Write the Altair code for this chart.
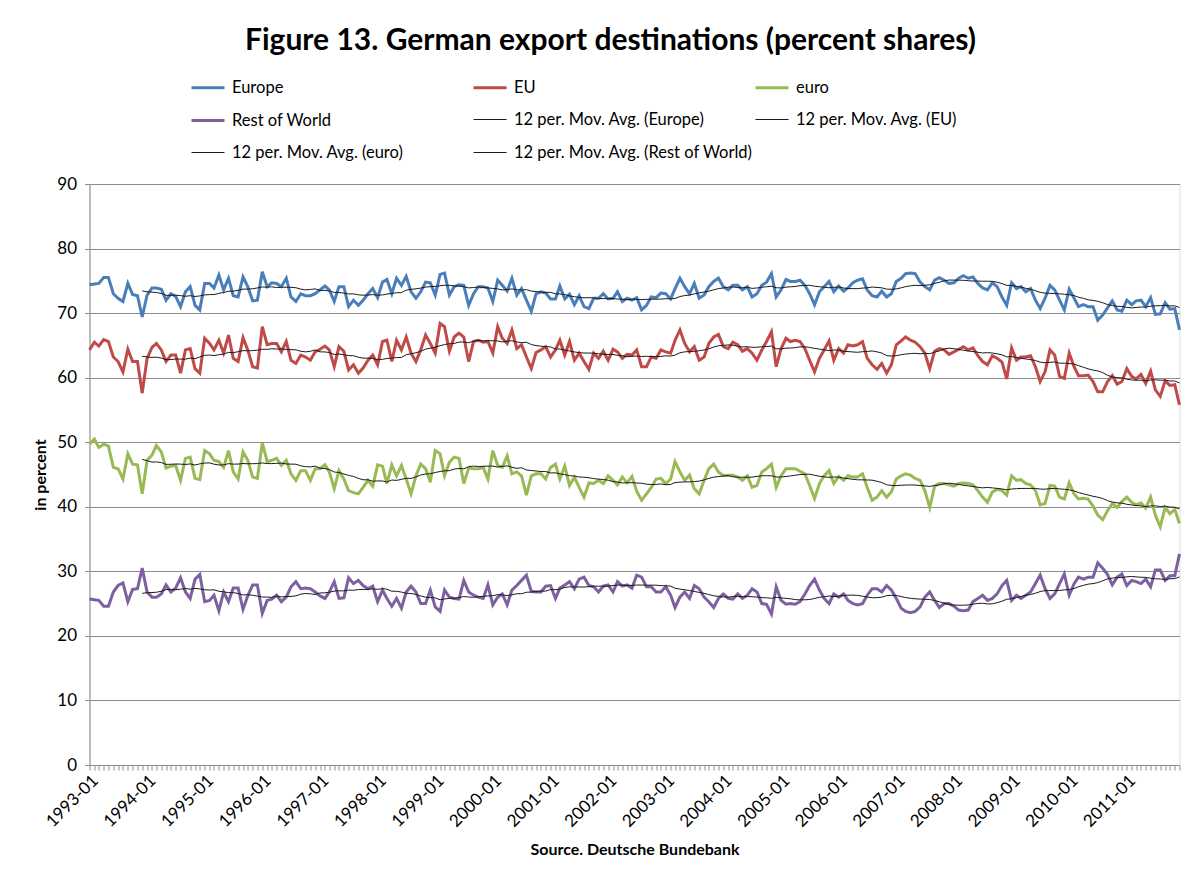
import altair as alt
import pandas as pd

# ---- data (monthly shares) ----
months = [d.strftime("%Y-%m") for d in pd.date_range("1993-01-01", periods=228, freq="MS")]

europe = [
    74.4, 74.5, 74.6, 75.5, 75.5, 73.0, 72.3, 71.8, 74.6, 72.9,
    72.7, 69.4, 72.8, 73.9, 73.9, 73.7, 72.0, 73.0, 72.6, 71.0,
    73.3, 74.1, 71.2, 70.5, 74.6, 74.6, 73.9, 75.9, 73.6, 75.4,
    72.7, 72.5, 75.6, 74.1, 71.9, 72.0, 76.4, 74.1, 74.7, 74.6,
    74.1, 75.4, 72.5, 71.8, 73.0, 72.7, 72.7, 73.0, 73.6, 74.2,
    73.6, 71.8, 74.1, 74.1, 71.0, 72.0, 71.2, 72.0,
    73.0, 73.8, 72.4, 74.8, 75.2, 73.0, 75.4, 74.3, 75.7, 73.3,
    72.3, 73.3, 74.8, 74.7, 72.8, 76.0, 76.2, 72.8, 74.1, 74.4,
    74.3, 71.2, 73.0, 74.1, 74.1, 73.9, 71.8, 75.1, 74.3, 73.4,
    75.4, 72.8, 73.8, 72.0, 70.3, 73.0, 73.3, 73.1, 72.2, 72.2,
    74.2, 72.2, 72.9, 71.3, 72.7, 71.0, 70.7, 72.3, 72.3, 73.0,
    72.2, 72.3, 73.3, 71.8, 72.3, 72.0, 72.4, 70.5,
    71.2, 72.5, 72.4, 73.1, 73.0, 72.2, 73.8, 75.4, 74.1, 73.0,
    74.6, 72.3, 72.8, 74.1, 74.9, 75.4, 74.1, 73.6, 74.3, 74.3,
    73.6, 74.1, 72.5, 73.0, 74.3, 74.8, 76.1, 72.5, 73.6, 75.2,
    74.9, 74.9, 75.1, 74.3, 73.0, 71.3, 73.3, 74.1, 74.9, 73.3,
    74.2, 73.4, 73.9, 74.7, 75.1, 75.3, 73.6, 72.7, 72.5, 73.4,
    72.5, 73.0, 74.9, 75.4, 76.1,
    76.2, 76.1, 74.8, 74.1, 73.6, 75.1, 75.5, 75.1, 74.6, 74.7,
    75.4, 75.8, 75.4, 75.6, 74.6, 73.9, 73.6, 74.7, 74.1, 72.5,
    71.2, 74.7, 73.8, 74.1, 73.3, 73.8, 72.0, 70.7, 72.3, 74.3,
    73.6, 72.0, 70.5, 73.7, 72.3, 71.0, 71.3, 71.0, 71.0, 68.9,
    69.7, 70.8, 71.9, 70.5, 70.3, 72.0, 71.3, 71.9, 72.0, 71.0,
    72.4, 69.8, 69.9, 71.6, 70.6, 70.7, 67.4,
]

eu = [
    64.3, 65.5, 64.9, 65.9, 65.6, 63.2, 62.5, 60.9, 64.4, 62.5,
    62.5, 57.6, 63.0, 64.7, 65.3, 64.3, 62.5, 63.5, 63.5, 60.7,
    64.3, 64.5, 61.4, 60.7, 66.1, 65.3, 64.3, 65.8, 63.8, 66.6,
    63.0, 62.5, 66.2, 64.3, 61.7, 61.5, 67.9, 65.1, 65.3, 65.3,
    64.0, 65.6, 62.7, 62.2, 63.5, 63.2, 62.7, 64.0, 64.4, 64.9,
    64.3, 61.7, 64.8, 64.1, 61.2, 62.0, 60.7, 61.5,
    62.7, 63.5, 62.0, 65.6, 65.8, 62.5, 65.8, 64.3, 66.3, 63.8,
    62.5, 64.3, 66.6, 65.3, 63.8, 68.4, 67.9, 64.1, 66.3, 66.9,
    66.3, 62.5, 65.6, 65.8, 65.5, 65.6, 63.8, 67.9, 66.1, 65.3,
    67.4, 64.5, 65.1, 63.2, 61.4, 63.9, 64.3, 64.8, 63.2, 64.3,
    65.8, 63.5, 65.6, 62.7, 63.8, 62.5, 61.3, 63.8, 63.0, 64.1,
    62.7, 64.4, 64.0, 63.0, 63.6, 63.5, 64.3, 61.7,
    61.7, 63.2, 63.0, 64.3, 64.0, 63.8, 65.8, 67.4, 65.3, 64.0,
    64.8, 62.7, 63.2, 65.3, 66.3, 66.7, 64.8, 64.5, 65.5, 65.1,
    64.1, 64.5, 63.8, 62.7, 64.3, 65.6, 67.1, 61.7, 64.5, 66.1,
    65.6, 65.8, 65.6, 64.5, 62.7, 60.9, 63.0, 64.3, 65.7, 62.7,
    64.5, 63.8, 65.1, 64.9, 65.1, 65.6, 63.0, 62.0, 61.3, 62.2,
    60.7, 62.0, 65.1, 65.7, 66.3,
    65.8, 65.5, 64.8, 63.8, 61.4, 64.1, 64.5, 64.3, 63.6, 64.0,
    64.4, 64.8, 64.3, 64.6, 63.4, 62.5, 62.0, 63.4, 63.0, 62.4,
    59.8, 64.6, 62.7, 63.2, 63.2, 63.4, 61.7, 59.4, 60.9, 64.3,
    63.5, 60.2, 59.9, 63.8, 61.7, 60.3, 60.3, 60.4, 59.4, 57.8,
    57.8, 59.4, 60.3, 59.0, 59.4, 61.4, 60.2, 59.8, 60.5, 59.1,
    61.0, 58.1, 57.1, 59.5, 58.8, 58.9, 55.8,
]

euro = [
    49.7, 50.5, 49.2, 49.7, 49.4, 46.1, 45.9, 44.3, 48.2, 46.6,
    46.5, 42.0, 47.2, 48.0, 49.5, 48.5, 46.0, 46.3, 46.4, 44.1,
    47.5, 47.7, 44.4, 44.2, 48.7, 48.2, 47.2, 47.0, 46.1, 48.7,
    45.4, 44.3, 48.5, 47.2, 44.6, 44.4, 49.9, 47.0, 47.2, 47.5,
    46.4, 47.2, 45.1, 44.1, 45.6, 45.6, 44.1, 45.9, 45.9, 46.5,
    45.4, 42.8, 45.6, 44.3, 42.5, 42.2, 42.0, 43.0,
    44.1, 43.2, 46.5, 46.3, 43.6, 46.5, 44.8, 46.4, 44.3, 42.0,
    44.8, 46.6, 45.9, 43.8, 48.7, 48.2, 44.8, 46.9, 47.7, 47.5,
    43.6, 46.0, 45.9, 45.9, 46.1, 44.3, 48.7, 46.4, 46.1, 47.9,
    45.1, 45.4, 44.8, 41.8, 44.8, 45.1, 45.1, 44.3, 46.1, 46.6,
    44.3, 46.3, 43.3, 44.6, 43.0, 41.5, 43.7, 43.6, 44.1, 43.6,
    44.8, 44.1, 43.4, 44.6, 43.7, 44.7, 42.4, 41.0,
    42.0, 43.0, 44.3, 44.4, 43.6, 44.3, 47.0, 45.4, 44.1, 44.9,
    42.8, 42.0, 44.1, 45.9, 46.6, 45.4, 44.8, 44.9, 44.9, 44.6,
    44.1, 44.8, 43.0, 43.3, 45.4, 45.9, 46.6, 43.0, 44.8, 45.9,
    45.9, 45.9, 45.5, 45.1, 43.3, 41.3, 43.6, 44.8, 45.6, 43.6,
    44.7, 44.1, 44.8, 44.6, 44.6, 45.1, 43.0, 41.0, 41.5, 42.5,
    41.5, 42.3, 44.3, 44.8, 45.1,
    44.9, 44.4, 44.1, 42.5, 39.9, 43.2, 43.6, 43.6, 43.4, 43.2,
    43.6, 43.7, 43.6, 43.4, 42.5, 41.5, 40.7, 42.3, 42.7, 42.5,
    41.8, 44.8, 44.1, 44.2, 43.6, 43.4, 42.5, 40.3, 40.5, 43.3,
    43.2, 41.5, 41.2, 43.7, 42.0, 41.2, 41.3, 41.2, 40.1, 38.7,
    38.0, 39.4, 40.5, 39.9, 40.8, 41.5, 40.7, 40.3, 40.6, 39.8,
    41.5, 38.7, 36.9, 39.9, 38.9, 39.6, 37.4,
]

rest_of_world = [
    25.7, 25.6, 25.5, 24.6, 24.6, 26.8, 27.8, 28.2, 25.3, 27.2,
    27.3, 30.5, 26.8, 26.0, 26.0, 26.5, 27.9, 26.8, 27.4, 29.0,
    26.8, 25.8, 28.8, 29.5, 25.3, 25.5, 26.3, 23.9, 26.8, 25.3,
    27.4, 27.4, 24.1, 26.2, 27.9, 27.9, 23.5, 25.5, 25.7, 26.3,
    25.3, 26.0, 27.6, 28.4, 27.3, 27.4, 27.3, 26.8, 26.2, 25.8,
    26.8, 28.4, 25.8, 25.9, 29.0, 28.1, 28.6, 27.8,
    27.3, 27.7, 25.3, 27.1, 25.8, 24.6, 25.8, 24.3, 26.8, 27.7,
    26.8, 25.0, 25.0, 27.1, 24.5, 23.8, 27.1, 26.0, 25.8, 25.7,
    28.6, 26.8, 26.3, 26.0, 25.8, 27.9, 24.8, 26.0, 26.5, 24.8,
    27.1, 27.8, 28.6, 29.4, 26.9, 26.8, 26.8, 27.7, 27.8, 25.8,
    27.4, 27.9, 28.4, 27.3, 28.8, 29.1, 27.8, 27.6, 26.8, 27.7,
    27.9, 26.8, 28.4, 27.7, 27.9, 27.4, 29.4, 29.1,
    27.6, 27.6, 26.8, 26.8, 27.6, 26.3, 24.4, 26.0, 26.8, 25.8,
    27.8, 27.3, 26.0, 25.3, 24.4, 25.8, 26.5, 25.8, 25.7, 26.5,
    25.8, 26.3, 27.3, 26.8, 25.0, 24.9, 23.4, 27.6, 25.5, 24.9,
    25.0, 24.9, 25.3, 26.5, 27.8, 28.8, 27.1, 25.8, 25.0, 26.5,
    26.0, 26.5, 25.5, 25.0, 24.8, 25.0, 26.3, 27.3, 27.3, 26.8,
    27.8, 27.1, 25.8, 24.3, 23.8,
    23.6, 23.8, 24.5, 26.0, 26.8, 25.5, 24.4, 25.0, 25.0, 24.6,
    24.0, 23.9, 24.0, 25.3, 25.8, 26.3, 25.5, 25.8, 26.5, 27.8,
    28.6, 25.5, 26.3, 25.8, 26.3, 26.8, 28.1, 29.4, 27.3, 25.8,
    26.5, 28.1, 29.6, 26.3, 28.1, 29.1, 28.8, 29.1, 29.1, 31.3,
    30.5, 29.5, 27.9, 29.1, 29.6, 27.8, 28.6, 28.4, 28.1, 28.8,
    27.6, 30.2, 30.2, 28.6, 29.3, 29.3, 32.7,
]

series_names = ["Europe", "EU", "euro", "Rest of World"]
series_colors = {"Europe": "#4A7EBB", "EU": "#BE4B48", "euro": "#98B954", "Rest of World": "#7D60A0"}
ma_label = {s: f"12 per. Mov. Avg. ({s})" for s in series_names}

# legend grid is filled column by column: order entries so rows read
# Europe | EU | euro  /  Rest of World | MA(Europe) | MA(EU)  /  MA(euro) | MA(Rest of World)
legend_domain = [
    "Europe", "Rest of World", ma_label["euro"],
    "EU", ma_label["Europe"], ma_label["Rest of World"],
    "euro", ma_label["EU"],
]
legend_colors = [series_colors.get(k, "#1a1a1a") for k in legend_domain]
legend_widths = [3 if k in series_colors else 1 for k in legend_domain]

rows = []
for name, vals in zip(series_names, [europe, eu, euro, rest_of_world]):
    for m, v in zip(months, vals):
        rows.append({"date": m + "-01T00:00:00", "series": name, "value": v})
df = pd.DataFrame(rows)

FONT = "Lato"
GRID = "#8c8c8c"

x_enc = alt.X(
    "date:T",
    scale=alt.Scale(domain=[months[0] + "-01T00:00:00", months[-1] + "-01T00:00:00"], nice=False),
    axis=alt.Axis(
        values=[m + "-01T00:00:00" for m in months],
        labelExpr="month(datum.value) == 0 ? timeFormat(datum.value, '%Y-%m') : ''",
        labelAngle=-45,
        labelOverlap=False,
        labelFont=FONT,
        labelFontSize=17,
        labelColor="#000000",
        labelPadding=2,
        tickSize=5,
        tickColor=GRID,
        domainColor=GRID,
        grid=False,
        title="Source. Deutsche Bundebank",
        titleFont=FONT,
        titleFontSize=16,
        titleFontWeight="bold",
        titleColor="#000000",
        titlePadding=12,
    ),
)


def y_enc(field):
    return alt.Y(
        f"{field}:Q",
        scale=alt.Scale(domain=[0, 90], nice=False),
        axis=alt.Axis(
            values=list(range(0, 91, 10)),
            labelFont=FONT,
            labelFontSize=17,
            labelColor="#000000",
            labelPadding=8,
            tickSize=5,
            tickColor=GRID,
            domainColor=GRID,
            gridColor=GRID,
            title="in percent",
            titleFont=FONT,
            titleFontSize=16,
            titleFontWeight="bold",
            titleColor="#000000",
            titlePadding=8,
        ),
    )


color_enc = alt.Color(
    "legend:N",
    scale=alt.Scale(domain=legend_domain, range=legend_colors),
    legend=alt.Legend(
        title=None,
        orient="none",
        legendX=100.5,
        legendY=-114.5,
        columns=3,
        gridAlign="all",
        columnPadding=-8,
        rowPadding=6,
        symbolType="stroke",
        symbolSize=1089,
        labelFont=FONT,
        labelFontSize=16.5,
        labelColor="#000000",
        labelOffset=6,
        labelLimit=400,
    ),
)
width_enc = alt.StrokeWidth(
    "legend:N",
    scale=alt.Scale(type="ordinal", domain=legend_domain, range=legend_widths),
    legend=alt.Legend(title=None),
)

base = alt.Chart(df)

raw = base.transform_calculate(legend="datum.series").mark_line().encode(
    x=x_enc, y=y_enc("value"), color=color_enc, strokeWidth=width_enc
)

ma = (
    base.transform_window(
        ma="mean(value)",
        rn="row_number()",
        frame=[-11, 0],
        groupby=["series"],
        sort=[alt.SortField("date", order="ascending")],
    )
    .transform_filter("datum.rn >= 12")
    .transform_calculate(legend="'12 per. Mov. Avg. (' + datum.series + ')'")
    .mark_line()
    .encode(x=x_enc, y=y_enc("ma"), color=color_enc, strokeWidth=width_enc)
)

chart = (
    alt.layer(raw, ma)
    .properties(
        width=1090,
        height=581,
        autosize=alt.AutoSizeParams(type="none"),
        padding={"left": 81.5, "top": 176, "right": 15, "bottom": 100},
        title=alt.TitleParams(
            "Figure 13. German export destinations (percent shares)",
            font=FONT,
            fontSize=30,
            fontWeight="bold",
            color="#000000",
            anchor="middle",
            dx=-24,
            offset=14,
        ),
    )
    .configure_view(stroke=None)
    .configure(background="#ffffff")
)

chart.save("out.html", embed_options={"renderer": "svg", "actions": False})
